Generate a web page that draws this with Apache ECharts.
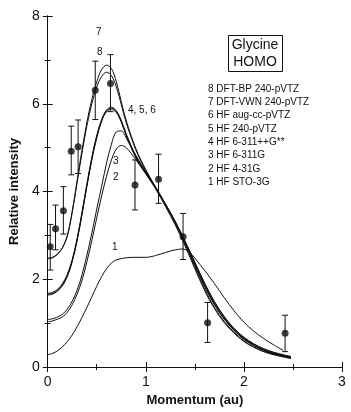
<!DOCTYPE html>
<html>
<head>
<meta charset="utf-8">
<script src="https://cdn.jsdelivr.net/npm/echarts@6/dist/echarts.min.js"></script>
<style>
html,body{margin:0;padding:0;background:#fff;}
#chart{width:351px;height:412px;}
</style>
</head>
<body>
<div id="chart"></div>
<script>
// ---- data ----
var xTicks = [0, 1, 2, 3];
var yTicks = [0, 2, 4, 6, 8];

// experimental points (momentum, intensity, error low, error high)
var expX    = [0.026, 0.08, 0.16, 0.24, 0.31, 0.485, 0.64, 0.89, 1.13, 1.38, 1.63, 2.42];
var expY    = [2.74, 3.15, 3.56, 4.92, 5.02, 6.31, 6.46, 4.15, 4.28, 2.97, 1.01, 0.77];
var expLow  = [2.21, 2.67, 3.03, 4.38, 4.41, 5.64, 5.82, 3.58, 3.73, 2.45, 0.56, 0.35];
var expHigh = [3.25, 3.69, 4.11, 5.49, 5.63, 6.97, 7.12, 4.72, 4.85, 3.50, 1.47, 1.18];

// theory curves [momentum, intensity]
var curve1 = [[0,0.28],[0.05,0.31],[0.1,0.37],[0.15,0.46],[0.2,0.58],[0.25,0.73],[0.3,0.92],[0.35,1.13],[0.4,1.36],[0.45,1.6],[0.5,1.84],[0.55,2.06],[0.6,2.24],[0.65,2.37],[0.7,2.44],[0.8,2.49],[0.9,2.5],[1.0,2.5],[1.1,2.54],[1.2,2.61],[1.3,2.67],[1.37,2.69],[1.44,2.63],[1.5,2.48],[1.6,2.2],[1.7,1.9],[1.8,1.58],[1.9,1.28],[2.0,1.02],[2.1,0.82],[2.2,0.65],[2.3,0.51],[2.4,0.38]];
var curve2 = [[0,1.03],[0.05,1.05],[0.1,1.09],[0.15,1.14],[0.2,1.25],[0.25,1.42],[0.3,1.66],[0.35,1.98],[0.4,2.4],[0.45,2.88],[0.5,3.4],[0.55,3.9],[0.6,4.35],[0.65,4.72],[0.7,4.97],[0.75,5.05],[0.8,5.0],[0.9,4.72],[1.0,4.4],[1.1,4.07],[1.2,3.71],[1.3,3.31],[1.4,2.86],[1.5,2.38],[1.6,1.9],[1.7,1.48],[1.8,1.14],[1.9,0.87],[2.0,0.67],[2.1,0.52],[2.2,0.41],[2.3,0.33],[2.4,0.27],[2.48,0.23]];
var curve3 = [[0,1.08],[0.05,1.1],[0.1,1.14],[0.15,1.2],[0.2,1.32],[0.25,1.5],[0.3,1.75],[0.35,2.1],[0.4,2.55],[0.45,3.05],[0.5,3.6],[0.55,4.12],[0.6,4.65],[0.65,5.08],[0.7,5.36],[0.75,5.38],[0.8,5.22],[0.9,4.82],[1.0,4.45],[1.1,4.1],[1.2,3.72],[1.3,3.32],[1.4,2.87],[1.5,2.39],[1.6,1.91],[1.7,1.49],[1.8,1.15],[1.9,0.88],[2.0,0.68],[2.1,0.53],[2.2,0.42],[2.3,0.34],[2.4,0.28],[2.48,0.24]];
var curve4 = [[0,1.64],[0.05,1.66],[0.1,1.73],[0.15,1.85],[0.2,2.06],[0.25,2.4],[0.3,2.88],[0.35,3.47],[0.4,4.12],[0.45,4.72],[0.5,5.22],[0.55,5.6],[0.6,5.82],[0.65,5.87],[0.7,5.8],[0.75,5.58],[0.8,5.28],[0.9,4.76],[1.0,4.41],[1.1,4.07],[1.2,3.69],[1.3,3.29],[1.4,2.83],[1.5,2.33],[1.6,1.84],[1.7,1.42],[1.8,1.09],[1.9,0.83],[2.0,0.63],[2.1,0.49],[2.2,0.38],[2.3,0.3],[2.4,0.25],[2.48,0.21]];
var curve5 = [[0,1.66],[0.05,1.68],[0.1,1.75],[0.15,1.87],[0.2,2.08],[0.25,2.42],[0.3,2.9],[0.35,3.5],[0.4,4.15],[0.45,4.75],[0.5,5.25],[0.55,5.62],[0.6,5.84],[0.65,5.9],[0.7,5.82],[0.75,5.6],[0.8,5.3],[0.9,4.78],[1.0,4.42],[1.1,4.08],[1.2,3.7],[1.3,3.3],[1.4,2.84],[1.5,2.34],[1.6,1.85],[1.7,1.43],[1.8,1.1],[1.9,0.84],[2.0,0.64],[2.1,0.5],[2.2,0.39],[2.3,0.31],[2.4,0.26],[2.48,0.22]];
var curve6 = [[0,1.68],[0.05,1.7],[0.1,1.77],[0.15,1.9],[0.2,2.11],[0.25,2.45],[0.3,2.93],[0.35,3.53],[0.4,4.18],[0.45,4.78],[0.5,5.28],[0.55,5.64],[0.6,5.86],[0.65,5.92],[0.7,5.84],[0.75,5.62],[0.8,5.32],[0.9,4.8],[1.0,4.43],[1.1,4.09],[1.2,3.71],[1.3,3.31],[1.4,2.85],[1.5,2.35],[1.6,1.86],[1.7,1.44],[1.8,1.11],[1.9,0.85],[2.0,0.65],[2.1,0.5],[2.2,0.39],[2.3,0.31],[2.4,0.26],[2.48,0.22]];
var curve7 = [[0,2.48],[0.05,2.5],[0.1,2.58],[0.15,2.72],[0.2,3.0],[0.25,3.55],[0.3,4.25],[0.35,4.95],[0.4,5.58],[0.45,6.1],[0.5,6.5],[0.55,6.78],[0.6,6.88],[0.65,6.8],[0.7,6.5],[0.75,6.05],[0.8,5.62],[0.9,4.97],[1.0,4.5],[1.1,4.1],[1.2,3.7],[1.3,3.28],[1.4,2.8],[1.5,2.28],[1.6,1.78],[1.7,1.36],[1.8,1.04],[1.9,0.79],[2.0,0.6],[2.1,0.46],[2.2,0.36],[2.3,0.29],[2.4,0.24],[2.48,0.2]];
var curve8 = [[0,2.47],[0.05,2.49],[0.1,2.57],[0.15,2.71],[0.2,2.98],[0.25,3.52],[0.3,4.2],[0.35,4.88],[0.4,5.5],[0.45,6.0],[0.5,6.38],[0.55,6.62],[0.6,6.72],[0.65,6.64],[0.7,6.38],[0.75,5.98],[0.8,5.57],[0.9,4.94],[1.0,4.47],[1.1,4.07],[1.2,3.66],[1.3,3.24],[1.4,2.76],[1.5,2.24],[1.6,1.74],[1.7,1.33],[1.8,1.01],[1.9,0.77],[2.0,0.58],[2.1,0.45],[2.2,0.35],[2.3,0.28],[2.4,0.23],[2.48,0.19]];

var methodLabels = ['8 DFT-BP 240-pVTZ','7 DFT-VWN 240-pVTZ','6 HF aug-cc-pVTZ','5 HF 240-pVTZ','4 HF 6-311++G**','3 HF 6-311G','2 HF 4-31G','1 HF STO-3G'];
var boxTitle = ['Glycine','HOMO'];
var xName = 'Momentum (au)';
var yName = 'Relative intensity';

// ---- chart ----
var FONT = '"Liberation Sans", Arial, Helvetica, sans-serif';
var chart = echarts.init(document.getElementById('chart'), null, {renderer:'canvas'});

var errData = expX.map(function(x,i){ return [x, expY[i], expLow[i], expHigh[i]]; });
var ptData = expX.map(function(x,i){ return [x, expY[i]]; });

function lineSeries(d, w){
  return {type:'line', data:d, smooth:0.35, showSymbol:false, symbol:'none', silent:true,
    lineStyle:{color:'#111', width:w||1}, z:2, xAxisIndex:0, yAxisIndex:0};
}

var axisCommon = {
  axisLine:{show:true, lineStyle:{color:'#111', width:1}},
  splitLine:{show:false},
  axisTick:{show:true, inside:true, length:5, lineStyle:{color:'#111'}},
  minorTick:{show:true, splitNumber:2, length:3, lineStyle:{color:'#111'}}
};

var methodGraphics = methodLabels.map(function(t,i){
  return {type:'text', left:208, top:84 + i*13.3, style:{text:t, font:'10px '+FONT, fill:'#111'}};
});

var curveLabels = [
  {t:'7', x:96, y:27}, {t:'8', x:97, y:47}, {t:'4, 5, 6', x:128, y:105},
  {t:'3', x:113, y:156}, {t:'2', x:113, y:172}, {t:'1', x:112, y:242}
].map(function(o){
  return {type:'text', left:o.x, top:o.y, style:{text:o.t, font:'10px '+FONT, fill:'#111'}};
});

var option = {
  animation:false,
  backgroundColor:'#fff',
  grid:{left:43, right:9, top:16, bottom:45},
  xAxis:[
    Object.assign({type:'value', min:0, max:3, interval:1, position:'bottom',
      name:xName, nameLocation:'middle', nameGap:22,
      nameTextStyle:{fontFamily:FONT, fontSize:13, fontWeight:'bold', color:'#111'},
      axisLabel:{show:true, fontFamily:FONT, fontSize:14, color:'#111', margin:8,
        formatter:function(v){ return xTicks.indexOf(v) >= 0 ? String(v) : ''; }}}, axisCommon),
    Object.assign({type:'value', min:0, max:3, interval:1, position:'top', axisLabel:{show:false}}, axisCommon)
  ],
  yAxis:[
    Object.assign({type:'value', min:0, max:8, interval:2, position:'left',
      name:yName, nameLocation:'middle', nameGap:24, nameRotate:90,
      nameTextStyle:{fontFamily:FONT, fontSize:13, fontWeight:'bold', color:'#111'},
      axisLabel:{show:true, fontFamily:FONT, fontSize:14, color:'#111', margin:8,
        formatter:function(v){ return yTicks.indexOf(v) >= 0 ? String(v) : ''; }}}, axisCommon),
    Object.assign({type:'value', min:0, max:8, interval:2, position:'right', axisLabel:{show:false}}, axisCommon)
  ],
  series:[
    lineSeries(curve1), lineSeries(curve2), lineSeries(curve3),
    lineSeries(curve4), lineSeries(curve5), lineSeries(curve6),
    lineSeries(curve7), lineSeries(curve8),
    {type:'custom', data:errData, silent:true, z:3,
      renderItem:function(params, api){
        var x = api.value(0);
        var lo = api.coord([x, api.value(2)]);
        var hi = api.coord([x, api.value(3)]);
        var st = {stroke:'#111', lineWidth:1};
        return {type:'group', children:[
          {type:'line', shape:{x1:lo[0], y1:lo[1], x2:hi[0], y2:hi[1]}, style:st},
          {type:'line', shape:{x1:lo[0]-3, y1:lo[1], x2:lo[0]+3, y2:lo[1]}, style:st},
          {type:'line', shape:{x1:hi[0]-3, y1:hi[1], x2:hi[0]+3, y2:hi[1]}, style:st}
        ]};
      }},
    {type:'scatter', data:ptData, symbol:'circle', symbolSize:7, silent:true, z:4,
      itemStyle:{color:'#111'}}
  ],
  graphic:[
    {type:'rect', left:228, top:35, shape:{width:54, height:36},
      style:{fill:'#fff', stroke:'#111', lineWidth:1}},
    {type:'text', left:'center', top:37, x:0, style:{text:boxTitle[0], font:'14px '+FONT, fill:'#111'}, position:[0,0]},
  ].slice(0,1).concat([
    {type:'text', x:255, y:45, style:{text:boxTitle[0], font:'14px '+FONT, fill:'#111', align:'center', verticalAlign:'middle'}},
    {type:'text', x:255, y:62, style:{text:boxTitle[1], font:'14px '+FONT, fill:'#111', align:'center', verticalAlign:'middle'}}
  ]).concat(methodGraphics).concat(curveLabels)
};
chart.setOption(option);
</script>
</body>
</html>
